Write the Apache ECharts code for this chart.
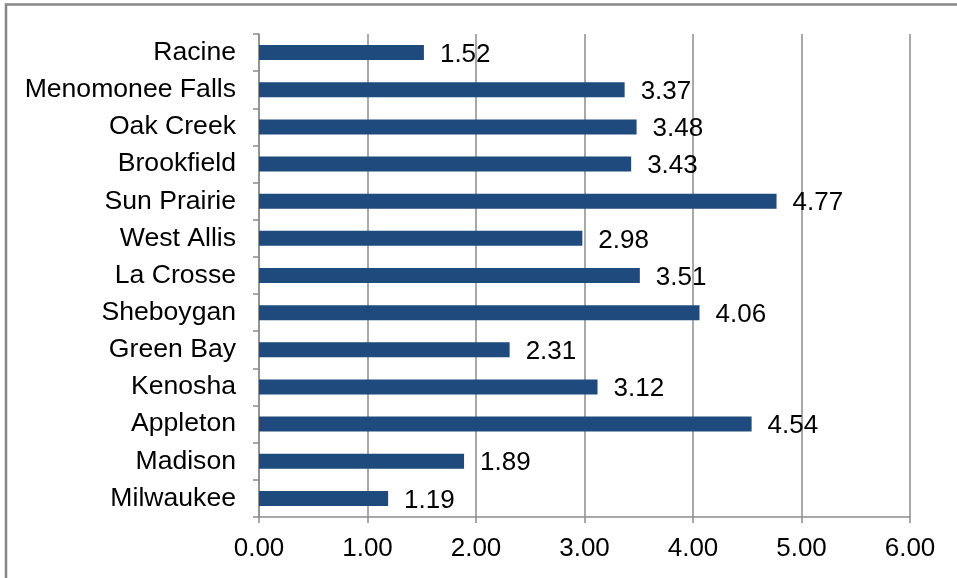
<!DOCTYPE html>
<html>
<head>
<meta charset="utf-8">
<script src="https://cdn.jsdelivr.net/npm/echarts@6/dist/echarts.min.js"></script>
<style>
  html, body { margin: 0; padding: 0; background: #fff; }
  #chart { width: 957px; height: 578px; }
</style>
</head>
<body>
<div id="chart"></div>
<script>
// Cities, listed bottom to top on the category axis
const cities = [
  'Milwaukee', 'Madison', 'Appleton', 'Kenosha', 'Green Bay', 'Sheboygan',
  'La Crosse', 'West Allis', 'Sun Prairie', 'Brookfield', 'Oak Creek',
  'Menomonee Falls', 'Racine'
];
const values = [1.19, 1.89, 4.54, 3.12, 2.31, 4.06, 3.51, 2.98, 4.77, 3.43, 3.48, 3.37, 1.52];

// Value axis range
const xMin = 0;
const xMax = 6;
const xStep = 1;

const FONT = '"Liberation Sans", Arial, sans-serif';
const GRAY = '#8c8c8c';

const chart = echarts.init(document.getElementById('chart'), null, { renderer: 'canvas' });

chart.setOption({
  animation: false,
  backgroundColor: '#ffffff',
  graphic: [{
    type: 'rect',
    silent: true,
    shape: { x: 6, y: 4.5, width: 1200, height: 1200 },
    style: { fill: 'none', stroke: '#878787', lineWidth: 2.5 }
  }],
  grid: { left: 259, right: 47, top: 34, bottom: 61, containLabel: false },
  xAxis: {
    type: 'value',
    min: xMin,
    max: xMax,
    interval: xStep,
    axisLine: { show: true, lineStyle: { color: GRAY, width: 1.5 } },
    axisTick: { show: true, length: 6, lineStyle: { color: GRAY, width: 1.5 } },
    splitLine: { show: true, lineStyle: { color: GRAY, width: 1.5 } },
    axisLabel: {
      margin: 19,
      color: '#000',
      fontFamily: FONT,
      fontSize: 26,
      formatter: v => v.toFixed(2)
    }
  },
  yAxis: {
    type: 'category',
    data: cities,
    axisLine: { show: true, lineStyle: { color: GRAY, width: 1.5 } },
    axisTick: { show: true, length: 6, lineStyle: { color: GRAY, width: 1.5 } },
    splitLine: { show: false },
    axisLabel: {
      margin: 23,
      color: '#000',
      fontFamily: FONT,
      fontSize: 26.6
    }
  },
  series: [{
    type: 'bar',
    data: values,
    barWidth: 15,
    itemStyle: { color: '#1f4a7e' },
    label: {
      show: true,
      position: 'right',
      distance: 16,
      offset: [0, 2],
      color: '#000',
      fontFamily: FONT,
      fontSize: 26,
      formatter: p => p.value.toFixed(2)
    }
  }]
});
</script>
</body>
</html>
